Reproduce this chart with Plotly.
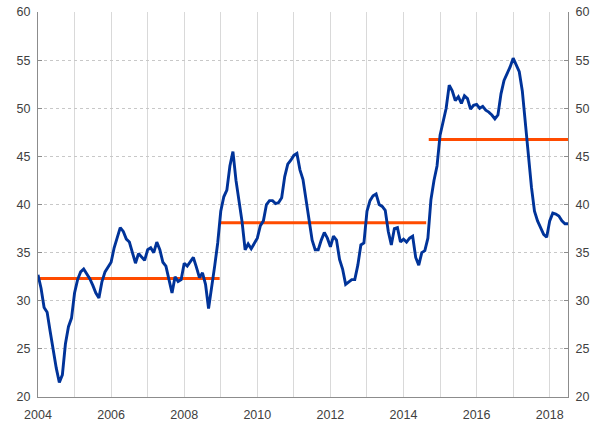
import plotly.graph_objects as go

start_year = 2004
values = [
    # 2004
    32.7, 31.3, 29.3, 28.8, 26.8, 24.8, 23.0, 21.5, 22.3, 25.5, 27.3, 28.2,
    # 2005
    30.8, 32.2, 33.0, 33.3, 32.8, 32.3, 31.6, 30.8, 30.3, 32.0, 33.0, 33.5,
    # 2006
    34.0, 35.5, 36.7, 37.6, 37.2, 36.4, 36.1, 35.0, 33.9, 34.9, 34.6, 34.2,
    # 2007
    35.3, 35.5, 35.0, 36.1, 35.3, 34.0, 33.6, 32.3, 30.8, 32.5, 32.0, 32.2,
    # 2008
    33.9, 33.6, 34.1, 34.5, 33.5, 32.4, 32.9, 31.7, 29.2, 31.2, 33.6, 36.0,
    # 2009
    39.3, 40.8, 41.5, 44.0, 45.5, 42.5, 40.5, 38.2, 35.3, 35.9, 35.4, 35.9,
    # 2010
    36.5, 37.8, 38.3, 40.0, 40.4, 40.4, 40.1, 40.2, 40.7, 42.9, 44.2, 44.6,
    # 2011
    45.1, 45.3, 43.6, 42.6, 40.5, 38.3, 36.3, 35.3, 35.3, 36.3, 37.1, 36.5,
    # 2012
    35.6, 36.7, 36.3, 34.3, 33.3, 31.7, 32.0, 32.2, 32.2, 33.7, 35.8, 36.0,
    # 2013
    39.3, 40.4, 40.9, 41.1, 40.0, 39.8, 39.4, 37.2, 35.8, 37.5, 37.6, 36.1,
    # 2014
    36.4, 36.1, 36.5, 36.7, 34.5, 33.7, 35.0, 35.2, 36.5, 40.5, 42.5, 44.0,
    # 2015
    47.2, 48.5, 50.0, 52.4, 51.8, 50.8, 51.2, 50.5, 51.3, 51.0, 49.9, 50.3,
    # 2016
    50.4, 50.0, 50.2, 49.8, 49.6, 49.3, 48.9, 49.3, 51.5, 52.9, 53.6, 54.3,
    # 2017
    55.2, 54.5, 53.8, 51.8, 48.5, 44.9, 41.8, 39.3, 38.3, 37.6, 36.9, 36.6,
    # 2018
    38.3, 39.1, 39.0, 38.8, 38.3, 38.0, 38.0,
]
x_years = [start_year + i / 12 for i in range(len(values))]

# period averages (orange segments)
avg_starts = [2004.0, 2009.0, 2014.69]
avg_ends = [2008.97, 2014.62, 2018.5]
avg_values = [32.3, 38.1, 46.75]

tick_years = list(range(2004, 2019))
tick_labels = [str(y) if y % 2 == 0 else "" for y in tick_years]
y_ticks = [20, 25, 30, 35, 40, 45, 50, 55, 60]

blue = "#003399"
orange = "#FF4B00"
grid = "#d9d9d9"
axis_c = "#8c8c8c"
font_c = "#404040"

fig = go.Figure()
for s, e, v in zip(avg_starts, avg_ends, avg_values):
    fig.add_trace(go.Scatter(x=[s, e], y=[v, v], mode="lines",
                             line=dict(color=orange, width=3),
                             showlegend=False, hoverinfo="skip"))
fig.add_trace(go.Scatter(x=x_years, y=values, mode="lines",
                         line=dict(color=blue, width=2.9),
                         showlegend=False))
# invisible trace for right axis
fig.add_trace(go.Scatter(x=[2004], y=[20], yaxis="y2", mode="markers",
                         marker=dict(opacity=0), showlegend=False,
                         hoverinfo="skip"))

fig.update_layout(
    width=600, height=423,
    margin=dict(l=38, r=32, t=12, b=26, autoexpand=False),
    plot_bgcolor="white", paper_bgcolor="white",
    font=dict(family="Liberation Sans, Arial, sans-serif", size=12.5, color=font_c),
    xaxis=dict(range=[2004, 2018.5], tickvals=tick_years, ticktext=tick_labels,
               showgrid=True, gridcolor=grid, gridwidth=1,
               showline=True, linecolor=axis_c, linewidth=1,
               ticks="", zeroline=False, automargin=False,
               ticklabelstandoff=6),
    yaxis=dict(range=[20, 60], tickvals=y_ticks, showgrid=True,
               gridcolor="#c8c8c8", griddash="dot", gridwidth=1,
               showline=True, linecolor=axis_c, linewidth=1,
               ticks="inside", ticklen=4, tickcolor=axis_c,
               zeroline=False, automargin=False, ticklabelstandoff=4),
    yaxis2=dict(range=[20, 60], tickvals=y_ticks, overlaying="y", side="right",
                showgrid=False, showline=True, linecolor=axis_c, linewidth=1,
                ticks="inside", ticklen=4, tickcolor=axis_c, zeroline=False,
                automargin=False, ticklabelstandoff=4),
)

fig.write_html("out.html",
               config={"displayModeBar": False},
               post_script="document.body.style.margin='0';")
